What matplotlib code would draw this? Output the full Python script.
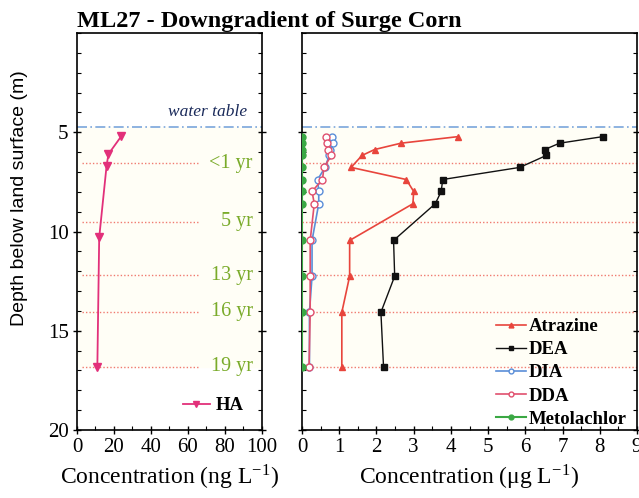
import matplotlib
matplotlib.use("Agg")
import matplotlib.pyplot as plt
from matplotlib.ticker import MultipleLocator

plt.rcParams['font.family'] = ['Liberation Serif', 'DejaVu Serif']
plt.rcParams['mathtext.fontset'] = 'stix'

# depths (m) of the multilevel sampler ports
depth = [5.22, 5.55, 5.87, 6.17, 6.77, 7.38, 7.98, 8.6, 10.45, 12.25, 14.07, 16.8]

# concentrations, ug/L
atrazine = [4.19, 2.66, 1.95, 1.61, 1.32, 2.80, 3.00, 2.98, 1.28, 1.28, 1.07, 1.07]
dea = [8.08, 6.92, 6.52, 6.56, 5.85, 3.78, 3.74, 3.58, 2.46, 2.49, 2.12, 2.19]
dia = [0.81, 0.83, 0.75, 0.73, 0.62, 0.42, 0.45, 0.45, 0.27, 0.27, 0.20, 0.20]
dda = [0.64, 0.67, 0.69, 0.79, 0.59, 0.55, 0.27, 0.33, 0.22, 0.22, 0.22, 0.19]
metolachlor = [0.01] * 12

# hydroxyatrazine, ng/L
ha_depth = [5.19, 6.1, 6.68, 10.3, 16.8]
ha = [24, 17, 16, 12, 11]

water_table = 4.75
age_depth = [6.56, 9.5, 12.2, 14.05, 16.8]
age_label = ['<1 yr', '5 yr', '13 yr', '16 yr', '19 yr']

fig = plt.figure(figsize=(6.39, 4.98), dpi=100)
ax1 = fig.add_axes([0.1205, 0.1365, 0.2895, 0.7972])
ax2 = fig.add_axes([0.4726, 0.1365, 0.5243, 0.7972])

age_color = '#7aab2a'
dot_color = '#f07a70'
wt_color = '#7aa6dc'
shade = '#fffef6'

# left panel
ax1.axhspan(water_table, age_depth[-1], color=shade, zorder=0)
ax1.axhline(water_table, color=wt_color, lw=1.2, ls=(0, (6, 2, 1, 2)), zorder=1)
ax1.text(92, water_table - 0.35, 'water table', style='italic', fontsize=12.5,
         color='#1a2a5a', ha='right', va='bottom')
for d, lab in zip(age_depth, age_label):
    ax1.plot([2.5, 66], [d, d], color=dot_color, lw=1, ls=(0, (1, 1.5)), zorder=1)
    ax1.text(95, d, lab, color=age_color, fontsize=14.5, ha='right', va='center')
ax1.plot(ha, ha_depth, color='#e2307a', marker='v', ms=6, lw=1.3, label='HA', zorder=3)
ax1.set_xlim(0, 100)
ax1.set_ylim(20, 0)
ax1.set_xticks(range(0, 101, 20))
ax1.xaxis.set_minor_locator(MultipleLocator(10))
ax1.set_yticks([5, 10, 15, 20])
ax1.yaxis.set_minor_locator(MultipleLocator(1))
ax1.set_xlabel('Concentration (ng L$^{\\mathregular{-1}}$)', fontsize=17)
ax1.set_ylabel('Depth below land surface (m)', fontsize=14, family='Liberation Sans')
ax1.yaxis.set_label_coords(-0.265, 0.585)
ax1.legend(loc='lower right', frameon=False, prop={'weight': 'bold', 'size': 13.5},
           handlelength=1.4, handletextpad=0.3, markerscale=0.7, borderaxespad=0.6,
           bbox_to_anchor=(1.0, -0.008))

# right panel
ax2.axhspan(water_table, age_depth[-1], color=shade, zorder=0)
ax2.axhline(water_table, color=wt_color, lw=1.2, ls=(0, (6, 2, 1, 2)), zorder=1)
for d in age_depth:
    ax2.axhline(d, color=dot_color, lw=1, ls=(0, (1, 1.5)), zorder=1)
ax2.plot(atrazine, depth, color='#e8453c', marker='^', ms=5, lw=1.2, label='Atrazine', zorder=3)
ax2.plot(dea, depth, color='#111111', marker='s', ms=5, lw=1.0, label='DEA', zorder=3)
ax2.plot(dia, depth, color='#5a8ed8', marker='o', ms=5, mfc='white', lw=1.2, label='DIA', zorder=3)
ax2.plot(dda, depth, color='#e0506e', marker='o', ms=5, mfc='white', lw=1.2, label='DDA', zorder=3)
ax2.plot(metolachlor, depth, color='#3aa844', marker='o', ms=5, lw=1.5, label='Metolachlor', zorder=4)
ax2.set_xlim(0, 9)
ax2.set_ylim(20, 0)
ax2.set_xticks(range(0, 10))
ax2.xaxis.set_minor_locator(MultipleLocator(0.5))
ax2.set_yticks([5, 10, 15, 20])
ax2.yaxis.set_minor_locator(MultipleLocator(1))
ax2.set_yticklabels([])
ax2.set_xlabel('Concentration (\u03bcg L$^{\\mathregular{-1}}$)', fontsize=17)
ax2.legend(loc='lower right', frameon=False, prop={'weight': 'bold', 'size': 13.5},
           handlelength=1.6, handletextpad=0.15, labelspacing=0.32, borderaxespad=0.15,
           markerscale=0.7, bbox_to_anchor=(1.0, -0.02))

for ax in (ax1, ax2):
    ax.tick_params(which='major', direction='inout', length=6, width=1, labelsize=15,
                   right=True, top=False, pad=3)
    ax.tick_params(which='minor', direction='in', length=3, width=0.8, right=True, top=False)
    for s in ax.spines.values():
        s.set_linewidth(1.2)

fig.text(0.1205, 0.957, 'ML27 - Downgradient of Surge Corn', fontsize=17.5, fontweight='bold',
         ha='left', va='center')

fig.savefig('out.png', dpi=100)
